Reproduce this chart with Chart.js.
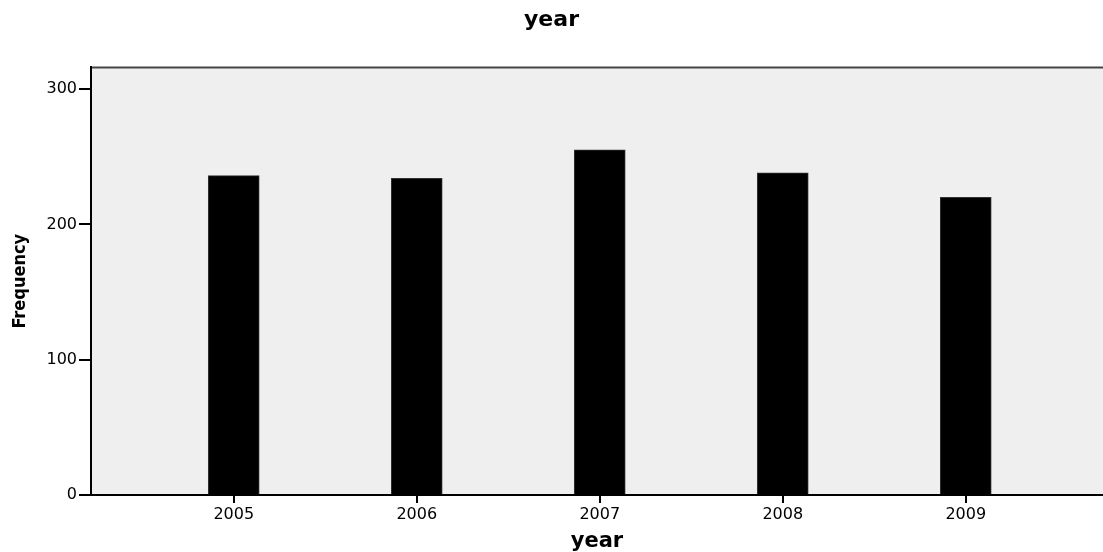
<!DOCTYPE html>
<html>
<head>
<meta charset="utf-8">
<script src="https://cdn.jsdelivr.net/npm/chart.js@4.4.1/dist/chart.umd.min.js"></script>
<style>
  html, body { margin: 0; padding: 0; background: #fff; }
  #wrap { width: 1103px; height: 552px; }
</style>
</head>
<body>
<div id="wrap"><canvas id="yearChart" width="1103" height="552"></canvas></div>
<script>
const years = [2005, 2006, 2007, 2008, 2009];
const frequency = [236, 234, 255, 238, 220];
const yTicks = [0, 100, 200, 300];

// grey plot background + top frame line
const plotFrame = {
    id: 'plotFrame',
    beforeDraw(chart) {
        const { ctx, chartArea: a } = chart;
        ctx.save();
        ctx.fillStyle = '#efefef';
        ctx.fillRect(a.left, a.top, a.right - a.left, a.bottom - a.top);
        ctx.strokeStyle = '#444';
        ctx.lineWidth = 2;
        ctx.beginPath();
        ctx.moveTo(a.left, a.top);
        ctx.lineTo(a.right, a.top);
        ctx.stroke();
        ctx.restore();
    }
};

const tickFont = { family: 'DejaVu Sans', size: 16 };

new Chart(document.getElementById('yearChart'), {
    type: 'bar',
    data: {
        datasets: [{
            data: years.map((y, i) => ({ x: y, y: frequency[i] })),
            backgroundColor: '#000',
            borderColor: '#333',
            borderWidth: 1,
            barThickness: 51
        }]
    },
    options: {
        responsive: false,
        animation: false,
        layout: { padding: 0 },
        plugins: {
            legend: { display: false },
            tooltip: { enabled: false },
            title: {
                display: true,
                text: 'year',
                color: '#000',
                font: { family: 'DejaVu Sans', size: 22, weight: 'bold', lineHeight: 1.2 },
                padding: { top: 7, bottom: 34 }
            }
        },
        scales: {
            x: {
                type: 'linear',
                min: 2004.22,
                max: 2009.75,
                offset: false,
                afterBuildTicks: s => { s.ticks = years.map(v => ({ value: v })); },
                afterFit: s => { s.height = 57; },
                grid: { offset: false, drawOnChartArea: false, drawTicks: true, tickLength: 8, color: '#000', lineWidth: 2 },
                border: { display: true, color: '#000', width: 2 },
                ticks: { color: '#000', font: tickFont, padding: 2, maxRotation: 0, callback: v => String(v) },
                title: {
                    display: true,
                    text: 'year',
                    color: '#000',
                    font: { family: 'DejaVu Sans', size: 21, weight: 'bold', lineHeight: 1 },
                    padding: { top: 0, bottom: 0 }
                }
            },
            y: {
                min: 0,
                max: 316,
                afterBuildTicks: s => { s.ticks = yTicks.map(v => ({ value: v })); },
                afterFit: s => { s.width = 91; },
                grid: { drawOnChartArea: false, drawTicks: true, tickLength: 12, color: '#000', lineWidth: 2 },
                border: { display: true, color: '#000', width: 2 },
                ticks: { color: '#000', font: tickFont, padding: 2 },
                title: {
                    display: true,
                    text: 'Frequency',
                    color: '#000',
                    font: { family: "'Liberation Sans Narrow', 'DejaVu Sans Condensed', sans-serif", size: 18, weight: 'bold', lineHeight: 1 },
                    padding: { top: 11, bottom: 0 }
                }
            }
        }
    },
    plugins: [plotFrame]
});
</script>
</body>
</html>
